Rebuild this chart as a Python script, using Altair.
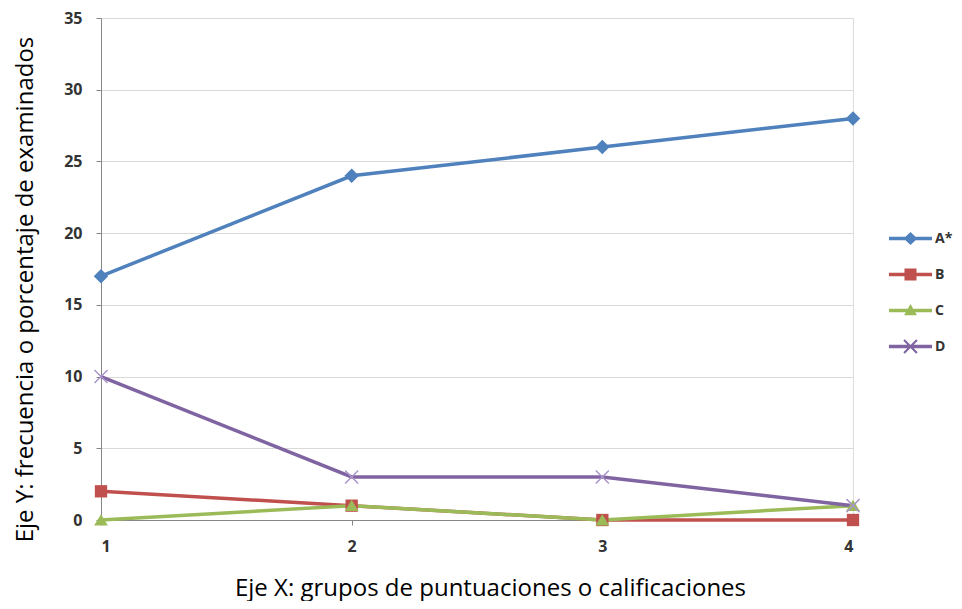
import altair as alt
import pandas as pd

# ---- data ----
grupos = [1, 2, 3, 4]
series = ["A*", "B", "C", "D"]
serie_a = [17, 24, 26, 28]
serie_b = [2, 1, 0, 0]
serie_c = [0, 1, 0, 1]
serie_d = [10, 3, 3, 1]
y_ticks = [0, 5, 10, 15, 20, 25, 30, 35]
colores = ["#4F81BD", "#C0504D", "#9BBB59", "#8064A2"]

x_title = "Eje X: grupos de puntuaciones o calificaciones"
y_title = "Eje Y: frecuencia o porcentaje de examinados"

rows = []
for nombre, valores in zip(series, [serie_a, serie_b, serie_c, serie_d]):
    for g, v in zip(grupos, valores):
        rows.append({"grupo": g, "valor": v, "serie": nombre})
df = pd.DataFrame(rows)

# ---- marker shapes (unit square -1..1) ----
diamond = "M0,-1L1,0L0,1L-1,0Z"
square = "M-0.85,-0.85H0.85V0.85H-0.85Z"
triangle = "M0,-0.8L0.95,0.75L-0.95,0.75Z"
xmark = "M-0.9,-0.9L0.9,0.9M-0.9,0.9L0.9,-0.9"

# legend symbols: line segment + marker, all filled, unit coords (scaled by 21.5px)
t = 0.08
line_seg = f"M-1,-{t}H1V{t}H-1Z"
a = 0.3
d = 0.035
leg_paths = [
    line_seg + "M0,-0.3L0.32,0L0,0.3L-0.32,0Z",
    line_seg + "M-0.28,-0.28H0.28V0.28H-0.28Z",
    line_seg + "M0,-0.3L0.3,0.22L-0.3,0.22Z",
    line_seg
    + f"M{-a+d},{-a-d}L{a+d},{a-d}L{a-d},{a+d}L{-a-d},{-a+d}Z"
    + f"M{-a-d},{a-d}L{a-d},{-a-d}L{a+d},{-a+d}L{-a+d},{a+d}Z",
]

FONT = "Open Sans"
AXIS_GRAY = "#868686"
LABEL_COLOR = "#333333"
TICK_FONT_SIZE = 16

x_enc = alt.X(
    "grupo:Q",
    scale=alt.Scale(domain=[1, 4], nice=False, zero=False),
    axis=alt.Axis(
        values=grupos,
        format="d",
        grid=False,
        domainColor=AXIS_GRAY,
        tickColor=AXIS_GRAY,
        tickSize=5,
        labelPadding=13,
        labelFont=FONT,
        labelFontSize=TICK_FONT_SIZE,
        labelFontWeight="bold",
        labelColor=LABEL_COLOR,
        title=x_title,
        titleFont=FONT,
        titleFontSize=24,
        titleFontWeight="normal",
        titleColor="#000000",
        titleX=389,
        titleY=75,
        titleBaseline="alphabetic",
        titleAnchor="middle",
    ),
)
y_enc = alt.Y(
    "valor:Q",
    scale=alt.Scale(domain=[0, 35], nice=False),
    axis=alt.Axis(
        values=y_ticks,
        grid=True,
        gridColor="#D9D9D9",
        domainColor=AXIS_GRAY,
        tickColor=AXIS_GRAY,
        tickSize=5,
        labelPadding=14,
        labelFont=FONT,
        labelFontSize=TICK_FONT_SIZE,
        labelFontWeight="bold",
        labelColor=LABEL_COLOR,
        title=y_title,
        titleFont=FONT,
        titleFontSize=24,
        titleFontWeight="normal",
        titleColor="#000000",
        titleX=-69,
        titleY=271,
        titleBaseline="alphabetic",
        titleAngle=270,
        titleAnchor="middle",
    ),
)

base = alt.Chart(df).encode(x=x_enc, y=y_enc)

# series colours for lines (stroke) and markers (fill); data-derived domains
# (sorted A*, B, C, D) so these legend-less scales stay apart from the legend's
lines = base.mark_line(strokeWidth=3.5).encode(
    stroke=alt.Stroke("serie:N", scale=alt.Scale(range=colores), legend=None)
)


def marker_layer(nombre, forma):
    return (
        base.transform_filter(alt.datum.serie == nombre)
        .mark_point(filled=True, opacity=1, size=210, shape=forma, strokeWidth=0)
        .encode(fill=alt.Fill("serie:N", scale=alt.Scale(range=colores), legend=None))
    )


markers_a = marker_layer("A*", diamond)
markers_b = marker_layer("B", square)
markers_c = marker_layer("C", triangle)

x_markers = (
    base.transform_filter(alt.datum.serie == "D")
    .mark_point(shape=xmark, filled=False, size=210, strokeWidth=1.5, color="#A995C9", opacity=1)
)

leg_kwargs = dict(
    title=None,
    orient="none",
    legendX=788,
    legendY=199,
    labelFont=FONT,
    labelFontSize=14,
    labelFontWeight="bold",
    labelColor=LABEL_COLOR,
    symbolSize=1849,
    symbolStrokeWidth=0,
    symbolOpacity=1,
    rowPadding=7,
    labelOffset=3,
)

# legend-only layer: draws no marks (empty after filter), only the legend
legend_layer = (
    base.transform_filter("false")
    .mark_point(filled=True)
    .encode(
        color=alt.Color("serie:N", scale=alt.Scale(domain=series, range=colores), legend=alt.Legend(**leg_kwargs)),
        shape=alt.Shape(
            "serie:N",
            scale=alt.Scale(domain=series, range=leg_paths),
            legend=alt.Legend(**leg_kwargs),
        ),
    )
)

chart = (
    alt.layer(lines, markers_a, markers_b, markers_c, x_markers, legend_layer)
    .properties(
        width=752,
        height=502,
        autosize=alt.AutoSizeParams(type="none"),
        padding={"left": 93, "top": 10, "right": 101, "bottom": 81},
    )
    .configure_view(stroke=None)
    .configure_axis(labelFontSize=TICK_FONT_SIZE, labelFont=FONT, labelFontWeight="bold")
    .configure(background="white")
)

chart.save("out.html", embed_options={"renderer": "svg", "actions": False})
